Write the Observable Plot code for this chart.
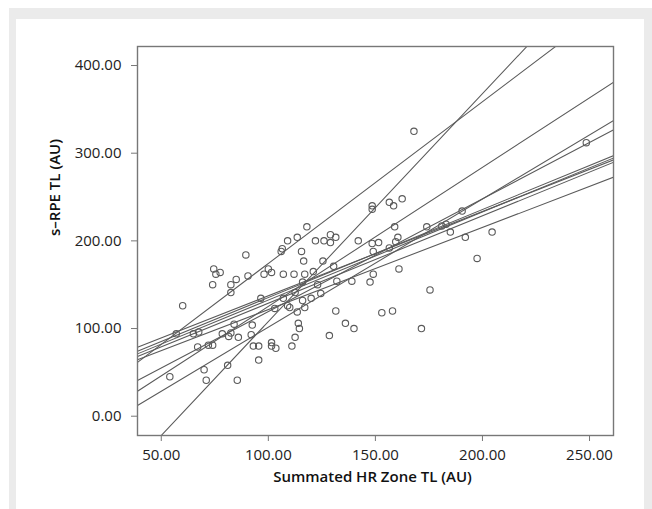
<!DOCTYPE html>
<html><head><meta charset="utf-8">
<script src="https://cdn.jsdelivr.net/npm/d3@7"></script>
<script src="https://cdn.jsdelivr.net/npm/@observablehq/plot@0.6"></script>
<style>
html,body{margin:0;padding:0;background:#fff;}
#outer{position:fixed;left:9px;top:8px;width:643px;height:501px;background:#ebebeb;}
#panel{position:absolute;left:7px;top:11px;width:628px;height:490px;background:#fff;}
</style></head><body>
<div id="outer"><div id="panel"></div></div>
<script>
// Scatter data: Summated HR Zone TL (x) vs s-RPE TL (y)
const hrZoneTL = [54,57,60,65,67.5,67,70,71,72,74,74,74.5,75.5,77.5,78.5,81,81.5,82.5,82.5,82.5,84,85,85.5,86,89.5,90.5,92,92.5,93,95.5,95.5,96.5,98,100,101.5,101.5,101.5,103,103.5,106.5,106,107,107,109,109,110,111,112,112.5,112.5,113.5,113.5,114,114.5,115.5,116,116,116.5,117,117,118,120,121,122,123,124.5,125.5,126,128.5,129,129,130.5,131.5,131.5,132,136,139,140,142,147.5,148.5,148.5,148.5,149,149,151.5,153,156.5,156.5,158.5,158,159,159.5,160.5,161,162.5,168,171.5,174,175.5,181,183,185,190.5,192,197.5,204.5,248.5];
const sRpeTL = [45,94,126,94,96,79,53,41,81,81,150,168,162,164,94,58,91,150,141,95,105,156,41,90,184,160,93,104,80,80,64,134.5,162,168,164,84,80,123,77.5,191,188,134.5,162,200,126,124,80,162,141,90,204,119,106,100,188,153,132,177,162,124,216,134.5,165,200,150,140,177,200,92,207,198,171,204,120,154,106,154,100,200,153,240,236,197,188,162,198,118,192,244,240,120,216,199,204,168,248,325,100,216,144,217,219,210,234,204,180,210,312];

// Fitted regression lines (one per individual): slope and intercept
const fitSlope = [2.599,1.845,1.585,1.462,1.286,0.961,1.004,1.005,0.997,0.937];
const fitIntercept = [-151.96,-10.3,-33.2,-44.7,-9.2,41.3,35.0,32.0,29.2,27.9];

const xTicks = [50,100,150,200,250];
const yTicks = [0,100,200,300,400];
const xTitle = "Summated HR Zone TL (AU)";
const yTitle = "s\u2013RPE TL (AU)";

const xDomain = [38.9, 261.2];
const yDomain = [-22, 421.7];

const points = hrZoneTL.map((x, i) => ({x, y: sRpeTL[i]}));
const fitLines = fitSlope.flatMap((s, i) => xDomain.map(x => ({fit: i, x, y: fitIntercept[i] + s * x})));

const ink = "#5a5a5a";
const chart = Plot.plot({
  width: 628,
  height: 490,
  marginLeft: 121,
  marginRight: 31,
  marginTop: 27,
  marginBottom: 74,
  style: {fontFamily: "'Open Sans', sans-serif", fontSize: "15px", color: "#222", background: "transparent"},
  x: {domain: xDomain},
  y: {domain: yDomain},
  marks: [
    Plot.line(fitLines, {x: "x", y: "y", z: "fit", stroke: ink, strokeWidth: 1.05, clip: true}),
    Plot.dot(points, {x: "x", y: "y", r: 3.2, stroke: ink, strokeWidth: 1.1, fill: "none"}),
    Plot.frame({stroke: "#777", strokeWidth: 1.4}),
    Plot.axisX({ticks: xTicks, tickFormat: d => d.toFixed(2), tickSize: 6, tickPadding: 8, stroke: "#777", fill: "#222", label: null}),
    Plot.axisY({ticks: yTicks, tickFormat: d => d.toFixed(2), tickSize: 6, tickPadding: 10, stroke: "#777", fill: "#222", label: null}),
    Plot.text([xTitle], {text: d => d, frameAnchor: "bottom", dy: 46, dx: -3, fontWeight: 600, fontSize: 15, fill: "#111"}),
    Plot.text([yTitle], {text: d => d, frameAnchor: "left", rotate: -90, dx: -82, dy: -5, fontWeight: 600, fontSize: 15, fill: "#111"})
  ]
});
document.getElementById("panel").appendChild(chart);
</script></body></html>
